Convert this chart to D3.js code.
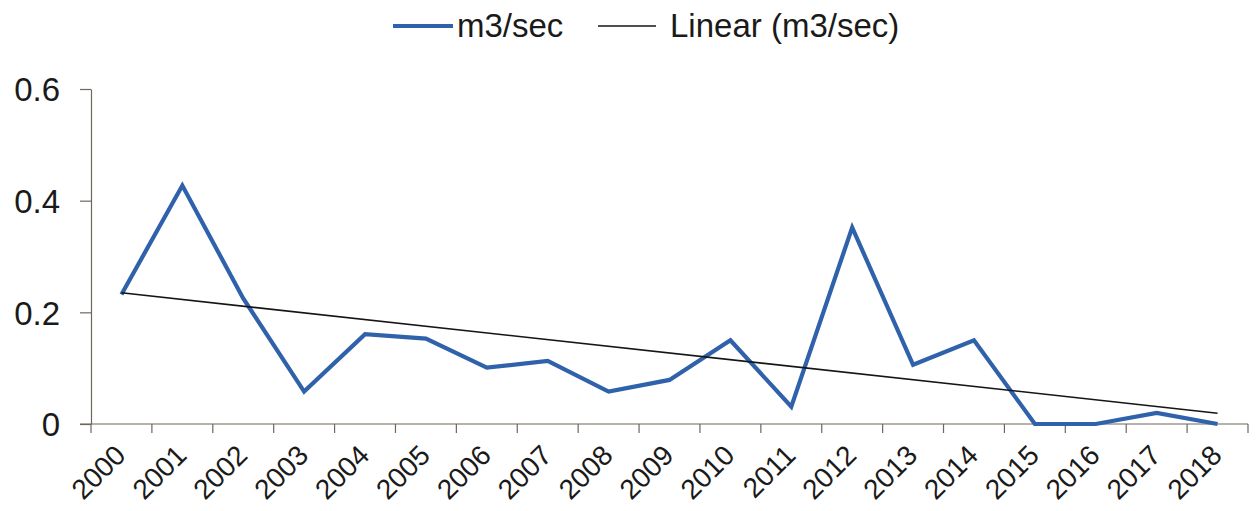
<!DOCTYPE html>
<html>
<head>
<meta charset="utf-8">
<script src="https://cdn.jsdelivr.net/npm/d3@7"></script>
<style>
  html, body { margin: 0; padding: 0; background: #fff; }
  svg { display: block; font-family: "Liberation Sans", Arial, sans-serif; }
</style>
</head>
<body>
<svg id="chart" width="1257" height="511"></svg>
<script>
// Annual flow (m3/sec), 2000–2018
const years = ["2000","2001","2002","2003","2004","2005","2006","2007","2008","2009",
               "2010","2011","2012","2013","2014","2015","2016","2017","2018"];
const flow  = [0.232, 0.427, 0.225, 0.058, 0.161, 0.153, 0.101, 0.113, 0.058, 0.079,
               0.150, 0.031, 0.352, 0.106, 0.150, 0.000, 0.000, 0.020, 0.000];
const yTicks = [0, 0.2, 0.4, 0.6];
const seriesName = "m3/sec";
const trendName = "Linear (m3/sec)";

const svg = d3.select("#chart");
const plotLeft = 91, plotRight = 1248, plotTop = 89, plotBottom = 424;

const x = d3.scaleBand().domain(years).range([plotLeft, plotRight]).paddingInner(0).paddingOuter(0);
const y = d3.scaleLinear().domain([0, 0.6]).range([plotBottom, plotTop]);
const cx = d => x(d) + x.bandwidth() / 2;

const axisColor = "#6f675a";
const textColor = "#1a1a1a";

// Y axis
const yAxis = svg.append("g").attr("transform", `translate(${plotLeft},0)`)
  .call(d3.axisLeft(y).tickValues(yTicks).tickSize(11).tickSizeOuter(0)
        .tickFormat(d => d === 0 ? "0" : d3.format(".1f")(d)));
yAxis.select(".domain").attr("stroke", axisColor).attr("stroke-width", 1.2);
yAxis.selectAll(".tick line").attr("stroke", axisColor).attr("stroke-width", 1.2);
yAxis.selectAll(".tick text")
  .attr("x", -31).attr("dy", "0.36em")
  .attr("font-size", 33).attr("fill", textColor)
  .attr("font-family", "'Liberation Sans', Arial, sans-serif");

// X axis: ticks on category boundaries
const boundaries = years.map(d => x(d)).concat([plotRight]);
const xg = svg.append("g");
xg.append("line").attr("x1", plotLeft - 11).attr("x2", plotRight).attr("y1", plotBottom).attr("y2", plotBottom)
  .attr("stroke", axisColor).attr("stroke-width", 1.2);
xg.selectAll("line.tk").data(boundaries).join("line").attr("class", "tk")
  .attr("x1", d => d).attr("x2", d => d).attr("y1", plotBottom).attr("y2", plotBottom + 9)
  .attr("stroke", axisColor).attr("stroke-width", 1.2);
xg.selectAll("text").data(years).join("text")
  .attr("transform", d => `translate(${cx(d) - 8},${plotBottom + 19}) rotate(-45)`)
  .attr("text-anchor", "end").attr("dy", "0.7em")
  .attr("font-size", 28).attr("fill", textColor)
  .text(d => d);

// Linear trend (least squares on year index)
const n = flow.length;
const idx = d3.range(n);
const mx = d3.mean(idx), my = d3.mean(flow);
const slope = d3.sum(idx, i => (i - mx) * (flow[i] - my)) / d3.sum(idx, i => (i - mx) ** 2);
const intercept = my - slope * mx;
const trend = [0, n - 1].map(i => ({ year: years[i], v: intercept + slope * i }));

const line = d3.line().x(d => cx(d.year)).y(d => y(d.v));

svg.append("path")
  .datum(years.map((yr, i) => ({ year: yr, v: flow[i] })))
  .attr("d", line)
  .attr("fill", "none").attr("stroke", "#2f62ab").attr("stroke-width", 4.2)
  .attr("stroke-linejoin", "miter");

svg.append("path").datum(trend).attr("d", line)
  .attr("fill", "none").attr("stroke", "#151515").attr("stroke-width", 1.6);

// Legend
const lg = svg.append("g");
lg.append("line").attr("x1", 393).attr("x2", 453).attr("y1", 26).attr("y2", 26)
  .attr("stroke", "#2f62ab").attr("stroke-width", 4.2);
lg.append("text").attr("x", 457).attr("y", 37).attr("font-size", 33).attr("fill", textColor)
  .text(seriesName);
lg.append("line").attr("x1", 598).attr("x2", 656).attr("y1", 26).attr("y2", 26)
  .attr("stroke", "#151515").attr("stroke-width", 1.6);
lg.append("text").attr("x", 670).attr("y", 37).attr("font-size", 33).attr("fill", textColor)
  .text(trendName);
</script>
</body>
</html>
